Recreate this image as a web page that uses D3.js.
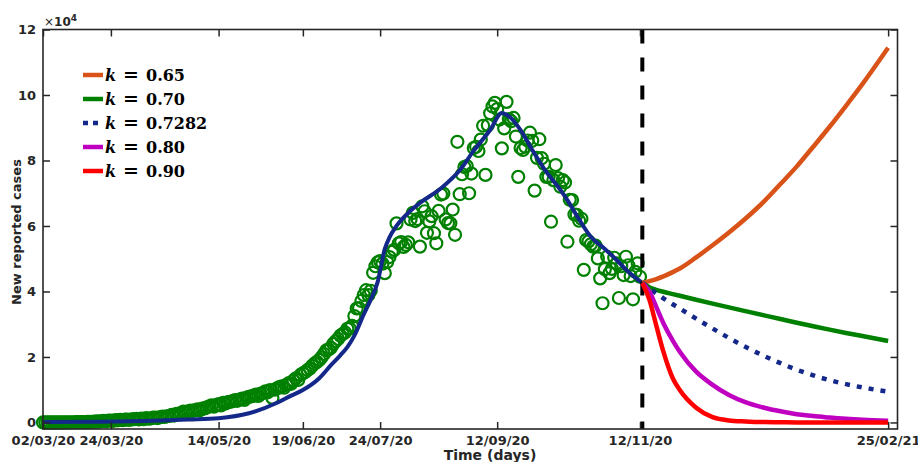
<!DOCTYPE html>
<html>
<head>
<meta charset="utf-8">
<script src="https://cdn.jsdelivr.net/npm/d3@7"></script>
<style>
  body { margin: 0; background: #fff; }
  svg { display: block; }
</style>
</head>
<body>
<div id="chart"></div>
<script>
// x positions are days counted from 02/03/20
const tickDays = [0, 29, 75, 111, 144, 194, 255, 361];
const tickLabels = ["02/03/20", "24/03/20", "14/05/20", "19/06/20", "24/07/20", "12/09/20", "12/11/20", "25/02/21"];
const yTicks = [0, 20000, 40000, 60000, 80000, 100000, 120000];

// daily reported cases, day 0 .. 255
const observed = [
    0, 0, 20, 10, 10, 20, 20, 30, 10, 30,
    40, 50, 60, 60, 80, 90, 70, 110, 100, 150,
    200, 180, 250, 300, 230, 380, 520, 400, 600, 550,
    500, 700, 650, 800, 700, 900, 850, 800, 950, 1000,
    1100, 900, 1200, 1000, 1300, 1150, 1200, 1450, 1500, 1350,
    1600, 1800, 1700, 1900, 2000, 2300, 2100, 2600, 2500, 2900,
    3300, 3100, 3400, 3600, 3500, 3800, 4000, 3700, 4200, 4300,
    4600, 4900, 5200, 4800, 5300, 5600, 5200, 6000, 5800, 6200,
    6300, 6500, 6800, 6600, 7000, 7300, 6900, 7600, 7800, 8000,
    8200, 8500, 8100, 8800, 9000, 9500, 9200, 9900, 7500, 10000,
    10400, 10800, 11000, 10600, 11500, 12000, 11800, 12800, 13500, 13000,
    14500, 15000, 15400, 16000, 16500, 17300, 18000, 18500, 19100, 19900,
    20900, 22000, 22300, 22800, 24000, 24800, 25500, 26500, 27000, 27500,
    28600, 28700, 29500, 32500, 34800, 34900, 37100, 38900, 40400, 38900,
    40200, 45700, 47700, 48900, 49300, 48500, 45600, 49000, 50500, 52100,
    52700, 60800, 54700, 55100, 53600, 54200, 55000, 62000, 64000, 61500,
    62100, 53700, 66000, 64500, 57900, 61400, 63000, 57800, 54700, 64600,
    69600, 69900, 62000, 60900, 60800, 65000, 57300, 85700, 69700, 75800,
    78000, 78300, 70000, 76000, 83800, 84200, 82900, 86400, 90600, 75600,
    90800, 94400, 96500, 97600, 95700, 92500, 83700, 89800, 97900, 92600,
    92000, 93000, 87300, 75000, 83800, 83200, 84200, 86100, 88500, 86000,
    70800, 80800, 86500, 80700, 79000, 75000, 75000, 61300, 74000, 78600,
    74600, 72000, 74000, 73300, 55200, 68000, 67900, 63500, 63400, 61600,
    62200, 46600, 55700, 55300, 54400, 53700, 54000, 50100, 44000, 36400,
    46800, 50600, 45600, 46900, 50300, 48600, 38000, 47700, 45000, 50600,
    48000, 44700, 37600, 46000, 48600, 44500
];

// fitted model
const fitDays = [0, 25, 50, 62, 75, 88, 100, 106, 111, 118, 123, 127, 130, 133, 137, 140, 143, 146, 148, 151,
    156, 161, 170, 178, 184, 191, 196, 199, 204, 209, 214, 221, 224, 229, 234, 240, 245, 250, 256];
const fitCases = [100, 200, 600, 900, 1300, 2800, 6000, 8200, 9900, 13500, 17500, 20500, 23000, 26500, 33000, 37500, 43000, 53000, 56500, 60000,
    64000, 67000, 71500, 77000, 83000, 89300, 94500, 93500, 89300, 83200, 77500, 71000, 67900, 62000, 56700, 53000, 49600, 46000, 42600];

// projections after 12/11/20
const lockdownDay = 256;
const projDays = [256, 259, 262, 265, 269, 272, 279, 286, 293, 300, 308, 315, 322, 329, 336, 343, 350, 361];
const k065 = [42600, 43150, 43800, 44600, 45900, 47000, 50400, 54100, 58000, 62200, 67500, 72800, 78200, 84200, 90300, 96700, 103300, 114400];
const k070 = [42600, 41300, 40500, 39900, 39200, 38680, 37480, 36300, 35130, 33980, 32700, 31600, 30450, 29380, 28340, 27340, 26380, 24900];
const k07282 = [42600, 40900, 39400, 37900, 36100, 34800, 31700, 28700, 25800, 23100, 20300, 18100, 16100, 14400, 12900, 11700, 10700, 9400];
const k080 = [42600, 40000, 35200, 30300, 25000, 21600, 15500, 11500, 8400, 6200, 4500, 3400, 2500, 2000, 1500, 1100, 800, 500];
const k090 = [42600, 37500, 29500, 21600, 13500, 9900, 4500, 1600, 600, 300, 100, 50, 0, 0, 0, 0, 0, 0];

const kLabels = ["0.65", "0.70", "0.7282", "0.80", "0.90"];

function createChart() {
    const W = 918, H = 462;
    const box = { left: 43, right: 897.5, top: 29.5, bottom: 429 };
    const axisColor = "#262626";
    const font = "'DejaVu Sans', sans-serif";

    const svg = d3.select("#chart")
        .append("svg")
        .attr("width", W)
        .attr("height", H);

    const x = d3.scaleLinear().domain([0, 365]).range([box.left, box.right]);
    const y = d3.scaleLinear().domain([-2000, 120000]).range([box.bottom, box.top]);

    const series = [
        { values: k065, color: "#d95319", dash: null },
        { values: k070, color: "#008000", dash: null },
        { values: k07282, color: "#14288a", dash: "5,7" },
        { values: k080, color: "#c000c0", dash: null },
        { values: k090, color: "#ff0000", dash: null }
    ];

    // observed data
    svg.append("g")
        .selectAll("circle")
        .data(observed)
        .join("circle")
        .attr("cx", (d, i) => x(i))
        .attr("cy", d => y(d))
        .attr("r", 6)
        .attr("fill", "none")
        .attr("stroke", "#008000")
        .attr("stroke-width", 2.2);

    // fit
    const fitLine = d3.line()
        .x(d => x(d[0]))
        .y(d => y(d[1]))
        .curve(d3.curveMonotoneX);

    svg.append("path")
        .datum(fitDays.map((d, i) => [d, fitCases[i]]))
        .attr("fill", "none")
        .attr("stroke", "#14288a")
        .attr("stroke-width", 4)
        .attr("d", fitLine);

    // vertical dashed marker
    svg.append("line")
        .attr("x1", x(lockdownDay))
        .attr("x2", x(lockdownDay))
        .attr("y1", box.top)
        .attr("y2", box.bottom)
        .attr("stroke", "#000")
        .attr("stroke-width", 4)
        .attr("stroke-dasharray", "14,14");

    // projections
    series.forEach(s => {
        svg.append("path")
            .datum(projDays.map((d, i) => [d, s.values[i]]))
            .attr("fill", "none")
            .attr("stroke", s.color)
            .attr("stroke-width", 4.5)
            .attr("stroke-dasharray", s.dash)
            .attr("d", fitLine);
    });

    // axes (ticks pointing inward)
    svg.append("g")
        .attr("transform", `translate(0,${box.bottom})`)
        .call(d3.axisBottom(x)
            .tickValues(tickDays)
            .tickFormat((d, i) => tickLabels[i])
            .tickSizeInner(-7)
            .tickSizeOuter(0)
            .tickPadding(7));

    svg.append("g")
        .attr("transform", `translate(0,${box.top})`)
        .call(d3.axisTop(x)
            .tickValues(tickDays)
            .tickFormat("")
            .tickSizeInner(-7)
            .tickSizeOuter(0));

    svg.append("g")
        .attr("transform", `translate(${box.left},0)`)
        .call(d3.axisLeft(y)
            .tickValues(yTicks)
            .tickFormat(d => d / 10000)
            .tickSizeInner(-7)
            .tickSizeOuter(0)
            .tickPadding(7));

    svg.append("g")
        .attr("transform", `translate(${box.right},0)`)
        .call(d3.axisRight(y)
            .tickValues(yTicks)
            .tickFormat("")
            .tickSizeInner(-7)
            .tickSizeOuter(0));

    svg.selectAll(".domain").remove();
    svg.selectAll(".tick line")
        .attr("stroke", axisColor)
        .attr("stroke-width", 1.5);
    svg.selectAll(".tick text")
        .attr("fill", axisColor)
        .style("font-family", font)
        .style("font-size", "13px")
        .style("font-weight", "bold");

    svg.append("rect")
        .attr("x", box.left)
        .attr("y", box.top)
        .attr("width", box.right - box.left)
        .attr("height", box.bottom - box.top)
        .attr("fill", "none")
        .attr("stroke", axisColor)
        .attr("stroke-width", 1.6);

    // exponent
    const expo = svg.append("text")
        .attr("x", box.left + 1)
        .attr("y", 26)
        .attr("fill", axisColor)
        .style("font-family", font)
        .style("font-size", "12px")
        .style("font-weight", "bold");
    expo.append("tspan").style("font-weight", "normal").text("×");
    expo.append("tspan").text("10");
    expo.append("tspan").attr("dy", -5).style("font-size", "9px").text("4");

    // axis labels
    svg.append("text")
        .attr("x", 490)
        .attr("y", 460)
        .attr("text-anchor", "middle")
        .attr("fill", axisColor)
        .style("font-family", font)
        .style("font-size", "14px")
        .style("font-weight", "bold")
        .text("Time (days)");

    svg.append("text")
        .attr("transform", "rotate(-90)")
        .attr("x", -232)
        .attr("y", 21)
        .attr("text-anchor", "middle")
        .attr("fill", axisColor)
        .style("font-family", font)
        .style("font-size", "13px")
        .style("font-weight", "bold")
        .text("New reported cases");

    // legend
    const legend = svg.append("g").attr("transform", "translate(83,75)");
    series.forEach((s, i) => {
        const g = legend.append("g").attr("transform", `translate(0,${i * 24})`);
        g.append("line")
            .attr("x1", 0)
            .attr("x2", 20)
            .attr("stroke", s.color)
            .attr("stroke-width", 4.5)
            .attr("stroke-dasharray", s.dash ? "5,5" : null);
        const t = g.append("text")
            .attr("y", 6)
            .attr("fill", "#000")
            .style("font-family", "'DejaVu Serif', serif")
            .style("font-size", "16px")
            .style("font-weight", "bold");
        t.append("tspan").attr("x", 22).style("font-style", "italic").text("k");
        t.append("tspan").attr("x", 40).style("font-size", "19px").text("=");
        t.append("tspan").attr("x", 63).text(kLabels[i]);
    });
}

if (document.readyState === 'loading') {
    document.addEventListener('DOMContentLoaded', createChart);
} else {
    createChart();
}
</script>
</body>
</html>
